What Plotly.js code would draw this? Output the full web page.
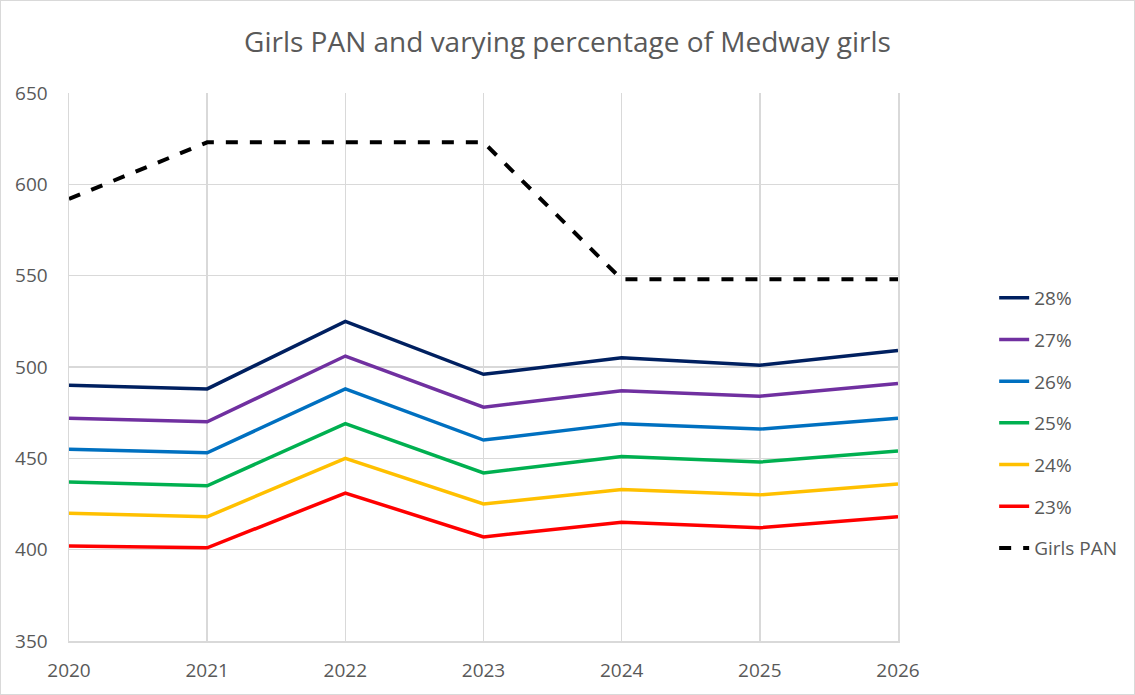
<!DOCTYPE html>
<html>
<head>
<meta charset="utf-8">
<script src="https://cdn.plot.ly/plotly-3.0.1.min.js"></script>
<style>
html,body{margin:0;padding:0;background:#fff;}
#chart{width:1133px;height:693px;border:1px solid #d9d9d9;}
</style>
</head>
<body>
<div id="chart"></div>
<script>
const years = ['2020','2021','2022','2023','2024','2025','2026'];
const p28 = [490, 488, 525, 496, 505, 501, 509];
const p27 = [472, 470, 506, 478, 487, 484, 491];
const p26 = [455, 453, 488, 460, 469, 466, 472];
const p25 = [437, 435, 469, 442, 451, 448, 454];
const p24 = [420, 418, 450, 425, 433, 430, 436];
const p23 = [402, 401, 431, 407, 415, 412, 418];
const girlsPAN = [592, 623, 623, 623, 548, 548, 548];
const seriesNames = ['28%','27%','26%','25%','24%','23%','Girls PAN'];
const yTicks = [350, 400, 450, 500, 550, 600, 650];

const series = [p28, p27, p26, p25, p24, p23, girlsPAN];
const colors = ['#002060','#7030A0','#0070C0','#00B050','#FFC000','#FF0000','#000000'];

const traces = series.map((vals, i) => ({
  x: years,
  y: vals,
  name: seriesNames[i],
  type: 'scatter',
  mode: 'lines',
  legendgroup: 'g' + i,
  line: {
    color: colors[i],
    width: i === 6 ? 4 : 3.5,
    dash: i === 6 ? 'dash' : 'solid'
  }
}));

const FONT = '"Open Sans", Lato, sans-serif';

const layout = {
  width: 1133,
  height: 693,
  paper_bgcolor: '#ffffff',
  plot_bgcolor: '#ffffff',
  font: {family: FONT, color: '#595959', size: 19},
  title: {
    text: 'Girls PAN and varying percentage of Medway girls',
    font: {size: 28, color: '#595959', family: FONT},
    x: 0.5, xanchor: 'center', y: 0.94, yanchor: 'middle'
  },
  margin: {l: 68, r: 236, t: 92, b: 53},
  xaxis: {
    type: 'category',
    range: [0, 6],
    showgrid: true,
    gridcolor: '#d9d9d9',
    gridwidth: 1.5,
    zeroline: false,
    showline: true,
    linecolor: '#d9d9d9',
    linewidth: 1.5,
    ticks: '',
    tickfont: {size: 19, color: '#595959', family: FONT},
    ticklabelstandoff: 12
  },
  yaxis: {
    range: [350, 650],
    tickvals: yTicks,
    showgrid: true,
    gridcolor: '#d9d9d9',
    gridwidth: 1.5,
    zeroline: false,
    showline: true,
    mirror: true,
    linecolor: '#d9d9d9',
    linewidth: 1.5,
    ticks: '',
    tickfont: {size: 19, color: '#595959', family: FONT},
    ticklabelstandoff: 16
  },
  legend: {
    x: 1.116, xanchor: 'left',
    y: 0.398, yanchor: 'middle',
    traceorder: 'grouped',
    tracegroupgap: 14,
    font: {size: 19, color: '#595959', family: FONT},
    bgcolor: 'rgba(0,0,0,0)'
  },
  showlegend: true
};

Plotly.newPlot('chart', traces, layout, {displayModeBar: false, staticPlot: true});
</script>
</body>
</html>
